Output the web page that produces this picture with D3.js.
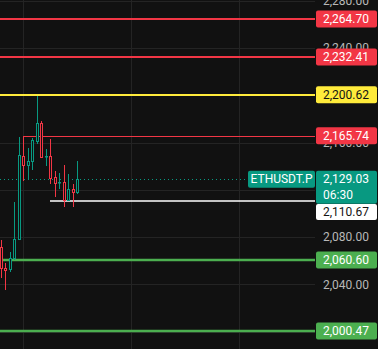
<!DOCTYPE html>
<html>
<head>
<meta charset="utf-8">
<script src="https://cdn.jsdelivr.net/npm/d3@7/dist/d3.min.js"></script>
<style>
  html, body { margin: 0; padding: 0; background: #111111; overflow: hidden; }
  svg { display: block; }
  text { font-family: Roboto, "Liberation Sans", sans-serif; font-size: 12px; }
</style>
</head>
<body>
<div id="chart"></div>
<script>
// candles, oldest first
var opens  = [2071.6, 2053.8, 2053.0, 2062.3, 2078.4, 2148.7, 2141.1, 2144.4, 2161.4, 2176.6, 2147.8, 2148.7, 2130.9, 2125.4, 2126.7, 2111.4, 2120.7, 2118.2];
var highs  = [2077.5, 2058.1, 2067.4, 2109.7, 2164.8, 2164.8, 2155.4, 2163.9, 2199.5, 2178.3, 2154.6, 2163.1, 2136.0, 2134.3, 2141.1, 2133.4, 2125.0, 2144.4];
var lows   = [2046.2, 2036.0, 2051.3, 2061.8, 2078.0, 2128.3, 2129.2, 2137.7, 2159.7, 2147.5, 2141.1, 2125.8, 2114.8, 2121.6, 2106.3, 2111.0, 2106.3, 2117.3];
var closes = [2053.8, 2052.1, 2062.3, 2078.4, 2149.5, 2141.1, 2144.4, 2162.2, 2176.6, 2147.8, 2148.7, 2130.0, 2125.8, 2126.2, 2111.4, 2120.7, 2118.2, 2129.03];

// horizontal levels
var levelPrices = [2264.70, 2232.41, 2200.62, 2165.74, 2110.67, 2060.60, 2000.47];
var levelKinds  = ["red", "red", "yellow", "redThin", "white", "green", "green"];
var levelStart  = [0, 0, 0, 5, 11, 0, 0];   // candle index where the line begins

var gridTicks = [2280, 2240, 2200, 2160, 2120, 2080, 2040, 2000];
// only the scale labels that are not fully covered by a price box
var axisTicks = [2280, 2240, 2160, 2080, 2040];
var timeGridIdx = [5, 29, 53];
var lastPrice = 2129.03;
var symbol = "ETHUSDT.P";
var countdown = "06:30";

var W = 378, H = 349, plotW = 315;
var bg = "#111111";
var up = "#089981", down = "#f23645";
var kindStyle = {
  red:     {stroke: "#f23645", width: 2, box: "#f23645", text: "#ffffff"},
  redThin: {stroke: "#f23645", width: 1, box: "#f23645", text: "#ffffff"},
  yellow:  {stroke: "#ffeb3b", width: 2, box: "#ffeb3b", text: "#131313"},
  white:   {stroke: "#ffffff", width: 1.5, box: "#ffffff", text: "#131313"},
  green:   {stroke: "#4caf50", width: 2.5, box: "#4caf50", text: "#ffffff"}
};

var fmt = d3.format(",.2f");

var y = d3.scaleLinear().domain([2280, 2000]).range([0.9, 331.5]);
var x = d3.scaleLinear().domain([0, 70]).range([0.8, 315.8]);

var svg = d3.select("#chart").append("svg")
    .attr("width", W)
    .attr("height", H);

svg.append("rect").attr("width", W).attr("height", H).attr("fill", bg);

// grid
var grid = svg.append("g").attr("id", "grid");
grid.selectAll("line.h").data(gridTicks).enter().append("line")
    .attr("x1", 0).attr("x2", plotW)
    .attr("y1", function (d) { return Math.round(y(d)) + 0.5; })
    .attr("y2", function (d) { return Math.round(y(d)) + 0.5; })
    .attr("stroke", "#242424");
grid.selectAll("line.v").data(timeGridIdx).enter().append("line")
    .attr("y1", 0).attr("y2", H)
    .attr("x1", function (d) { return Math.round(x(d)) + 0.5; })
    .attr("x2", function (d) { return Math.round(x(d)) + 0.5; })
    .attr("stroke", "#242424");

// axis labels (price boxes partly cover some of them)
svg.append("g").selectAll("text").data(axisTicks).enter().append("text")
    .attr("x", 323)
    .attr("y", function (d) { return y(d); })
    .attr("dy", "0.36em")
    .attr("fill", "#b8b8b8")
    .text(function (d) { return fmt(d); });

// last price dotted line
var ly = Math.round(y(lastPrice)) + 0.5;
svg.append("line")
    .attr("x1", 0).attr("x2", 248)
    .attr("y1", ly).attr("y2", ly)
    .attr("stroke", up)
    .attr("stroke-dasharray", "1,3");

// level lines
var levels = levelPrices.map(function (p, i) {
    return {price: p, style: kindStyle[levelKinds[i]], start: levelStart[i]};
});
svg.append("g").selectAll("line").data(levels).enter().append("line")
    .attr("x1", function (d) { return d.start === 0 ? 0 : Math.round(x(d.start)); })
    .attr("x2", plotW)
    .attr("y1", function (d) { return Math.round(y(d.price)) + (d.style.width === 1 ? 0.5 : 0); })
    .attr("y2", function (d) { return Math.round(y(d.price)) + (d.style.width === 1 ? 0.5 : 0); })
    .attr("stroke", function (d) { return d.style.stroke; })
    .attr("stroke-width", function (d) { return d.style.width; });

// candles (hollow bodies)
var candles = opens.map(function (o, i) {
    return {i: i, o: o, h: highs[i], l: lows[i], c: closes[i]};
});
var cg = svg.append("g").attr("id", "candles").selectAll("g").data(candles).enter().append("g");
cg.each(function (d) {
    var g = d3.select(this);
    var col = d.c >= d.o ? up : down;
    var L = Math.round(x(d.i)) - 1;
    var top = Math.round(y(Math.max(d.o, d.c)));
    var bot = Math.round(y(Math.min(d.o, d.c)));
    var cx = L + 1.5;
    g.append("line")
        .attr("x1", cx).attr("x2", cx)
        .attr("y1", Math.round(y(d.h))).attr("y2", Math.round(y(d.l)) + 1)
        .attr("stroke", col);
    if (bot - top < 2) {
        g.append("rect")
            .attr("x", L).attr("y", top)
            .attr("width", 3).attr("height", 1.5)
            .attr("fill", col);
    } else {
        g.append("rect")
            .attr("x", L + 0.5).attr("y", top + 0.5)
            .attr("width", 2).attr("height", bot - top)
            .attr("fill", bg)
            .attr("stroke", col);
    }
});

// price boxes on the scale
var boxH = 17;
var boxes = svg.append("g").attr("id", "boxes");
levels.forEach(function (d) {
    var cy = y(d.price);
    var top = cy - boxH / 2;
    if (d.price === 2110.67) top = 204;   // pushed below the last price box
    boxes.append("rect")
        .attr("x", 316).attr("y", top)
        .attr("width", 61).attr("height", d.price === 2110.67 ? 16 : boxH)
        .attr("rx", 2)
        .attr("fill", d.style.box);
    boxes.append("text")
        .attr("x", 323).attr("y", top + (d.price === 2110.67 ? 8 : boxH / 2))
        .attr("dy", "0.36em")
        .attr("fill", d.style.text)
        .text(fmt(d.price));
});

// last price box + countdown
var lpTop = y(lastPrice) - 8.5;
boxes.append("rect")
    .attr("x", 316).attr("y", lpTop)
    .attr("width", 61).attr("height", 33)
    .attr("rx", 2)
    .attr("fill", up);
boxes.append("text")
    .attr("x", 323).attr("y", lpTop + 8.5)
    .attr("dy", "0.36em")
    .attr("fill", "#ffffff")
    .text(fmt(lastPrice));
boxes.append("text")
    .attr("x", 323).attr("y", lpTop + 24)
    .attr("dy", "0.36em")
    .attr("fill", "#ffffff")
    .text(countdown);

// symbol tag
boxes.append("rect")
    .attr("x", 248).attr("y", lpTop)
    .attr("width", 67).attr("height", 17)
    .attr("rx", 2)
    .attr("fill", up);
boxes.append("text")
    .attr("x", 281.5).attr("y", lpTop + 8.5)
    .attr("dy", "0.36em")
    .attr("text-anchor", "middle")
    .attr("fill", "#ffffff")
    .text(symbol);
</script>
</body>
</html>
